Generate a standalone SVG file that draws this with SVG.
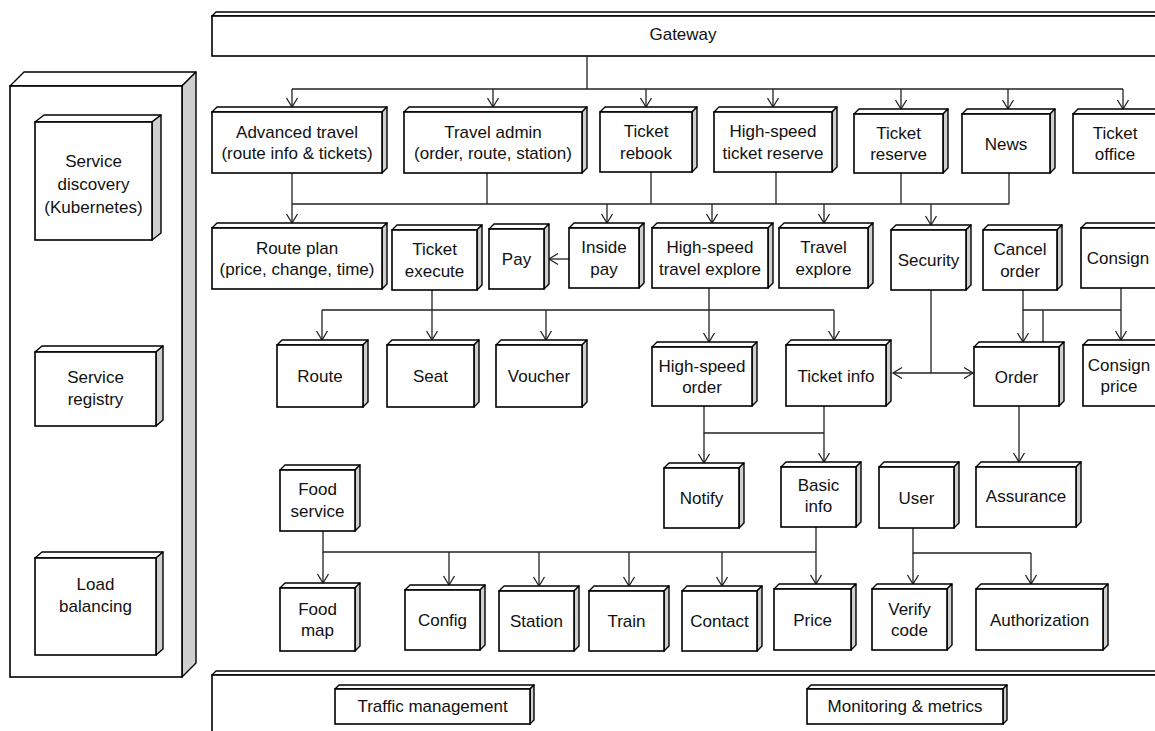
<svg xmlns="http://www.w3.org/2000/svg" width="1155" height="731" viewBox="0 0 1155 731">
<style>
.fr{fill:#fff;stroke:#000;stroke-width:1.6}
.tp{fill:#fff;stroke:#000;stroke-width:1.4;stroke-linejoin:round}
.sd{fill:#cfcfcf;stroke:#000;stroke-width:1.4;stroke-linejoin:round}
.c{fill:none;stroke:#222;stroke-width:1.3}
.a{fill:none;stroke:#222;stroke-width:1.3;marker-end:url(#arr)}
text{font-family:"Liberation Sans",Arial,sans-serif;font-size:17px;fill:#111;text-anchor:middle}
</style>
<defs>
<marker id="arr" markerUnits="userSpaceOnUse" markerWidth="14" markerHeight="14" viewBox="-12 -7 14 14" refX="0" refY="0" orient="auto">
<path d="M-9,-5.5 L0,0 L-9,5.5" fill="none" stroke="#222" stroke-width="1.3"/>
</marker>
</defs>
<rect width="1155" height="731" fill="#fff"/>

<g id="platform-left">
<path class="tp" d="M10,86 L24,72 L196,72 L182,86Z"/>
<path class="sd" d="M182,86 L196,72 L196,663 L182,677Z"/>
<rect class="fr" x="10" y="86" width="172" height="591"/>
</g>
<g id="service-discovery">
<path class="tp" d="M35,122 L44,115 L161,115 L152,122Z"/>
<path class="sd" d="M152,122 L161,115 L161,233 L152,240Z"/>
<rect class="fr" x="35" y="122" width="117" height="118"/>
<text x="93.5" y="167">Service</text><text x="93.5" y="190">discovery</text><text x="93.5" y="213">(Kubernetes)</text>
</g>
<g id="service-registry">
<path class="tp" d="M35,352 L42,346 L163,346 L156,352Z"/>
<path class="sd" d="M156,352 L163,346 L163,420 L156,426Z"/>
<rect class="fr" x="35" y="352" width="121" height="74"/>
<text x="95.5" y="383">Service</text><text x="95.5" y="405">registry</text>
</g>
<g id="load-balancing">
<path class="tp" d="M35,558 L42,552 L163,552 L156,558Z"/>
<path class="sd" d="M156,558 L163,552 L163,649 L156,655Z"/>
<rect class="fr" x="35" y="558" width="121" height="97"/>
<text x="95.5" y="590">Load</text><text x="95.5" y="612">balancing</text>
</g>

<g id="gateway">
<path class="tp" d="M212,16 L216,12 L1165,12 L1161,16Z"/>
<rect class="fr" x="212" y="16" width="960" height="40"/>
<text x="683" y="40">Gateway</text>
</g>

<g id="platform-bottom">
<path class="tp" d="M212,675 L216,671 L1165,671 L1161,675Z"/>
<rect class="fr" x="212" y="675" width="960" height="70"/>
</g>
<g id="traffic-management">
<path class="tp" d="M335,689 L339,685 L534,685 L530,689Z"/>
<path class="sd" d="M530,689 L534,685 L534,720 L530,724Z"/>
<rect class="fr" x="335" y="689" width="195" height="35"/>
<text x="432.5" y="712">Traffic management</text>
</g>
<g id="monitoring">
<path class="tp" d="M807,689 L811,685 L1007,685 L1003,689Z"/>
<path class="sd" d="M1003,689 L1007,685 L1007,720 L1003,724Z"/>
<rect class="fr" x="807" y="689" width="196" height="35"/>
<text x="905" y="712">Monitoring &amp; metrics</text>
</g>

<g id="connectors">
<path class="c" d="M587,56 V89 M292,89 H1123"/>
<path class="a" d="M292,89 V107"/><path class="a" d="M493,89 V107"/><path class="a" d="M646,89 V107"/><path class="a" d="M773,89 V107"/><path class="a" d="M901,89 V109"/><path class="a" d="M1008,89 V109"/><path class="a" d="M1123,89 V109"/>
<path class="c" d="M292,173 V204 M487,173 V204 M651,172 V204 M776,172 V204 M901,173 V204 M1009,173 V204 M292,204 H1009"/>
<path class="a" d="M292,204 V223"/><path class="a" d="M607,204 V223"/><path class="a" d="M712,204 V223"/><path class="a" d="M824,204 V223"/><path class="a" d="M931,204 V225"/>
<path class="a" d="M569,259 H549"/>
<path class="c" d="M432,290 V310 M709,288 V310 M322,310 H834"/>
<path class="a" d="M322,310 V340"/><path class="a" d="M432,310 V340"/><path class="a" d="M546,310 V340"/><path class="a" d="M709,310 V342"/><path class="a" d="M834,310 V340"/>
<path class="c" d="M931,290 V373"/>
<path class="a" d="M931,373 H893"/><path class="a" d="M931,373 H973"/>
<path class="c" d="M1023,290 V310 H1121 M1121,288 V310"/>
<path class="a" d="M1023,310 V342"/><path class="a" d="M1121,310 V340"/><path class="a" d="M1043,310 V355"/>
<path class="c" d="M704,406 V433 H824 M824,406 V433"/>
<path class="a" d="M704,433 V463"/><path class="a" d="M824,433 V462"/>
<path class="a" d="M1019,406 V462"/>
<path class="c" d="M323,531 V552 H816 M816,527 V552"/>
<path class="a" d="M323,552 V583"/><path class="a" d="M449,552 V585"/><path class="a" d="M539,552 V586"/><path class="a" d="M629,552 V586"/><path class="a" d="M722,552 V586"/><path class="a" d="M816,552 V584"/>
<path class="c" d="M913,528 V553 H1031"/>
<path class="a" d="M913,553 V584"/><path class="a" d="M1031,553 V584"/>
</g>

<g id="advanced-travel">
<path class="tp" d="M212,112 L217,107 L387,107 L382,112Z"/><path class="sd" d="M382,112 L387,107 L387,168 L382,173Z"/>
<rect class="fr" x="212" y="112" width="170" height="61"/>
<text x="297" y="137.8">Advanced travel</text><text x="297" y="159.3">(route info &amp; tickets)</text>
</g>
<g id="travel-admin">
<path class="tp" d="M404,112 L409,107 L587,107 L582,112Z"/><path class="sd" d="M582,112 L587,107 L587,168 L582,173Z"/>
<rect class="fr" x="404" y="112" width="178" height="61"/>
<text x="493" y="137.8">Travel admin</text><text x="493" y="159.3">(order, route, station)</text>
</g>
<g id="ticket-rebook">
<path class="tp" d="M600,112 L605,107 L697,107 L692,112Z"/><path class="sd" d="M692,112 L697,107 L697,167 L692,172Z"/>
<rect class="fr" x="600" y="112" width="92" height="60"/>
<text x="646" y="137.3">Ticket</text><text x="646" y="158.8">rebook</text>
</g>
<g id="hs-ticket-reserve">
<path class="tp" d="M714,112 L719,107 L837,107 L832,112Z"/><path class="sd" d="M832,112 L837,107 L837,167 L832,172Z"/>
<rect class="fr" x="714" y="112" width="118" height="60"/>
<text x="773" y="137.3">High-speed</text><text x="773" y="158.8">ticket reserve</text>
</g>
<g id="ticket-reserve">
<path class="tp" d="M854,114 L859,109 L948,109 L943,114Z"/><path class="sd" d="M943,114 L948,109 L948,168 L943,173Z"/>
<rect class="fr" x="854" y="114" width="89" height="59"/>
<text x="898.5" y="138.8">Ticket</text><text x="898.5" y="160.3">reserve</text>
</g>
<g id="news">
<path class="tp" d="M962,114 L967,109 L1055,109 L1050,114Z"/><path class="sd" d="M1050,114 L1055,109 L1055,168 L1050,173Z"/>
<rect class="fr" x="962" y="114" width="88" height="59"/>
<text x="1006" y="149.5">News</text>
</g>
<g id="ticket-office">
<path class="tp" d="M1073,114 L1078,109 L1162,109 L1157,114Z"/>
<rect class="fr" x="1073" y="114" width="84" height="59"/>
<text x="1115" y="138.8">Ticket</text><text x="1115" y="160.3">office</text>
</g>

<g id="route-plan">
<path class="tp" d="M212,228 L217,223 L387,223 L382,228Z"/><path class="sd" d="M382,228 L387,223 L387,284 L382,289Z"/>
<rect class="fr" x="212" y="228" width="170" height="61"/>
<text x="297" y="253.8">Route plan</text><text x="297" y="275.3">(price, change, time)</text>
</g>
<g id="ticket-execute">
<path class="tp" d="M392,230 L397,225 L482,225 L477,230Z"/><path class="sd" d="M477,230 L482,225 L482,285 L477,290Z"/>
<rect class="fr" x="392" y="230" width="85" height="60"/>
<text x="434.5" y="255.3">Ticket</text><text x="434.5" y="276.8">execute</text>
</g>
<g id="pay">
<path class="tp" d="M489,229 L494,224 L549,224 L544,229Z"/><path class="sd" d="M544,229 L549,224 L549,284 L544,289Z"/>
<rect class="fr" x="489" y="229" width="55" height="60"/>
<text x="516.5" y="265">Pay</text>
</g>
<g id="inside-pay">
<path class="tp" d="M569,228 L574,223 L644,223 L639,228Z"/><path class="sd" d="M639,228 L644,223 L644,283 L639,288Z"/>
<rect class="fr" x="569" y="228" width="70" height="60"/>
<text x="604" y="253.3">Inside</text><text x="604" y="274.8">pay</text>
</g>
<g id="hs-travel-explore">
<path class="tp" d="M652,228 L657,223 L773,223 L768,228Z"/><path class="sd" d="M768,228 L773,223 L773,283 L768,288Z"/>
<rect class="fr" x="652" y="228" width="116" height="60"/>
<text x="710" y="253.3">High-speed</text><text x="710" y="274.8">travel explore</text>
</g>
<g id="travel-explore">
<path class="tp" d="M779,228 L784,223 L873,223 L868,228Z"/><path class="sd" d="M868,228 L873,223 L873,283 L868,288Z"/>
<rect class="fr" x="779" y="228" width="89" height="60"/>
<text x="823.5" y="253.3">Travel</text><text x="823.5" y="274.8">explore</text>
</g>
<g id="security">
<path class="tp" d="M891,230 L896,225 L971,225 L966,230Z"/><path class="sd" d="M966,230 L971,225 L971,285 L966,290Z"/>
<rect class="fr" x="891" y="230" width="75" height="60"/>
<text x="928.5" y="266">Security</text>
</g>
<g id="cancel-order">
<path class="tp" d="M983,230 L988,225 L1062,225 L1057,230Z"/><path class="sd" d="M1057,230 L1062,225 L1062,285 L1057,290Z"/>
<rect class="fr" x="983" y="230" width="74" height="60"/>
<text x="1020" y="255.3">Cancel</text><text x="1020" y="276.8">order</text>
</g>
<g id="consign">
<path class="tp" d="M1081,228 L1086,223 L1162,223 L1157,228Z"/>
<rect class="fr" x="1081" y="228" width="76" height="60"/>
<text x="1118" y="264">Consign</text>
</g>

<g id="route">
<path class="tp" d="M277,345 L282,340 L368,340 L363,345Z"/><path class="sd" d="M363,345 L368,340 L368,402 L363,407Z"/>
<rect class="fr" x="277" y="345" width="86" height="62"/>
<text x="320" y="382">Route</text>
</g>
<g id="seat">
<path class="tp" d="M387,345 L392,340 L479,340 L474,345Z"/><path class="sd" d="M474,345 L479,340 L479,402 L474,407Z"/>
<rect class="fr" x="387" y="345" width="87" height="62"/>
<text x="430.5" y="382">Seat</text>
</g>
<g id="voucher">
<path class="tp" d="M496,345 L501,340 L587,340 L582,345Z"/><path class="sd" d="M582,345 L587,340 L587,402 L582,407Z"/>
<rect class="fr" x="496" y="345" width="86" height="62"/>
<text x="539" y="382">Voucher</text>
</g>
<g id="hs-order">
<path class="tp" d="M652,347 L657,342 L757,342 L752,347Z"/><path class="sd" d="M752,347 L757,342 L757,401 L752,406Z"/>
<rect class="fr" x="652" y="347" width="100" height="59"/>
<text x="702" y="371.8">High-speed</text><text x="702" y="393.3">order</text>
</g>
<g id="ticket-info">
<path class="tp" d="M786,345 L791,340 L891,340 L886,345Z"/><path class="sd" d="M886,345 L891,340 L891,401 L886,406Z"/>
<rect class="fr" x="786" y="345" width="100" height="61"/>
<text x="836" y="381.5">Ticket info</text>
</g>
<g id="order">
<path class="tp" d="M974,347 L979,342 L1064,342 L1059,347Z"/><path class="sd" d="M1059,347 L1064,342 L1064,401 L1059,406Z"/>
<rect class="fr" x="974" y="347" width="85" height="59"/>
<text x="1016.5" y="382.5">Order</text>
</g>
<g id="consign-price">
<path class="tp" d="M1083,345 L1088,340 L1162,340 L1157,345Z"/>
<rect class="fr" x="1083" y="345" width="74" height="61"/>
<text x="1119" y="370.8">Consign</text><text x="1119" y="392.3">price</text>
</g>

<g id="notify">
<path class="tp" d="M664,468 L669,463 L744,463 L739,468Z"/><path class="sd" d="M739,468 L744,463 L744,523 L739,528Z"/>
<rect class="fr" x="664" y="468" width="75" height="60"/>
<text x="701.5" y="504">Notify</text>
</g>
<g id="basic-info">
<path class="tp" d="M781,467 L786,462 L861,462 L856,467Z"/><path class="sd" d="M856,467 L861,462 L861,522 L856,527Z"/>
<rect class="fr" x="781" y="467" width="75" height="60"/>
<text x="818.5" y="491">Basic</text><text x="818.5" y="512">info</text>
</g>
<g id="user">
<path class="tp" d="M879,467 L884,462 L959,462 L954,467Z"/><path class="sd" d="M954,467 L959,462 L959,523 L954,528Z"/>
<rect class="fr" x="879" y="467" width="75" height="61"/>
<text x="916.5" y="503.5">User</text>
</g>
<g id="assurance">
<path class="tp" d="M976,467 L981,462 L1081,462 L1076,467Z"/><path class="sd" d="M1076,467 L1081,462 L1081,522 L1076,527Z"/>
<rect class="fr" x="976" y="467" width="100" height="60"/>
<text x="1026" y="502">Assurance</text>
</g>
<g id="food-service">
<path class="tp" d="M280,470 L285,465 L360,465 L355,470Z"/><path class="sd" d="M355,470 L360,465 L360,526 L355,531Z"/>
<rect class="fr" x="280" y="470" width="75" height="61"/>
<text x="317.5" y="495">Food</text><text x="317.5" y="516.5">service</text>
</g>

<g id="food-map">
<path class="tp" d="M280,588 L285,583 L360,583 L355,588Z"/><path class="sd" d="M355,588 L360,583 L360,646 L355,651Z"/>
<rect class="fr" x="280" y="588" width="75" height="63"/>
<text x="317.5" y="614.8">Food</text><text x="317.5" y="636.3">map</text>
</g>
<g id="config">
<path class="tp" d="M405,590 L410,585 L485,585 L480,590Z"/><path class="sd" d="M480,590 L485,585 L485,645 L480,650Z"/>
<rect class="fr" x="405" y="590" width="75" height="60"/>
<text x="442.5" y="626">Config</text>
</g>
<g id="station">
<path class="tp" d="M499,591 L504,586 L579,586 L574,591Z"/><path class="sd" d="M574,591 L579,586 L579,646 L574,651Z"/>
<rect class="fr" x="499" y="591" width="75" height="60"/>
<text x="536.5" y="627">Station</text>
</g>
<g id="train">
<path class="tp" d="M589,591 L594,586 L669,586 L664,591Z"/><path class="sd" d="M664,591 L669,586 L669,646 L664,651Z"/>
<rect class="fr" x="589" y="591" width="75" height="60"/>
<text x="626.5" y="627">Train</text>
</g>
<g id="contact">
<path class="tp" d="M682,591 L687,586 L762,586 L757,591Z"/><path class="sd" d="M757,591 L762,586 L762,646 L757,651Z"/>
<rect class="fr" x="682" y="591" width="75" height="60"/>
<text x="719.5" y="627">Contact</text>
</g>
<g id="price">
<path class="tp" d="M774,589 L779,584 L856,584 L851,589Z"/><path class="sd" d="M851,589 L856,584 L856,645 L851,650Z"/>
<rect class="fr" x="774" y="589" width="77" height="61"/>
<text x="812.5" y="625.5">Price</text>
</g>
<g id="verify-code">
<path class="tp" d="M872,589 L877,584 L952,584 L947,589Z"/><path class="sd" d="M947,589 L952,584 L952,645 L947,650Z"/>
<rect class="fr" x="872" y="589" width="75" height="61"/>
<text x="909.5" y="614.8">Verify</text><text x="909.5" y="636.3">code</text>
</g>
<g id="authorization">
<path class="tp" d="M976,589 L981,584 L1108,584 L1103,589Z"/><path class="sd" d="M1103,589 L1108,584 L1108,645 L1103,650Z"/>
<rect class="fr" x="976" y="589" width="127" height="61"/>
<text x="1039.5" y="625.5">Authorization</text>
</g>
</svg>
